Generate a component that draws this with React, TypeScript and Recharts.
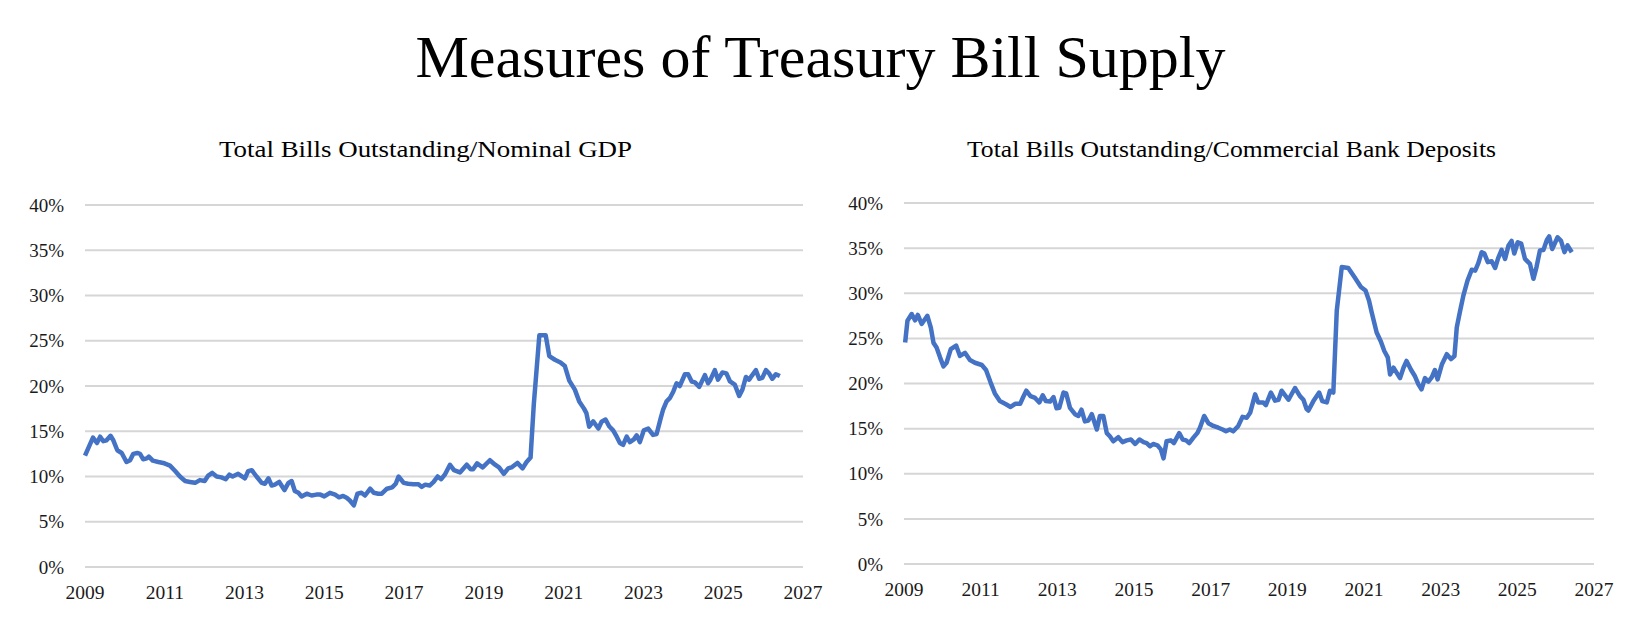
import React from 'react';
import { LineChart, Line, XAxis, YAxis, CartesianGrid } from 'recharts';

// Total bills outstanding / nominal GDP (%)
const gdpYears = [
  2009.0, 2009.13, 2009.2, 2009.3, 2009.38, 2009.46, 2009.54, 2009.64, 2009.71, 2009.81,
  2009.92, 2010.04, 2010.13, 2010.21, 2010.31, 2010.38, 2010.46, 2010.55, 2010.6, 2010.7,
  2010.84, 2010.96, 2011.13, 2011.26, 2011.38, 2011.51, 2011.63, 2011.76, 2011.88, 2012.0,
  2012.09, 2012.19, 2012.3, 2012.42, 2012.53, 2012.62, 2012.7, 2012.84, 2013.01, 2013.09,
  2013.18, 2013.3, 2013.43, 2013.51, 2013.6, 2013.68, 2013.76, 2013.87, 2014.0, 2014.1,
  2014.18, 2014.26, 2014.35, 2014.43, 2014.56, 2014.68, 2014.8, 2014.9, 2015.0, 2015.14,
  2015.27, 2015.37, 2015.47, 2015.56, 2015.64, 2015.74, 2015.83, 2015.93, 2016.02, 2016.15,
  2016.24, 2016.35, 2016.44, 2016.57, 2016.7, 2016.79, 2016.86, 2016.99, 2017.1, 2017.23,
  2017.36, 2017.44, 2017.53, 2017.64, 2017.74, 2017.84, 2017.93, 2018.02, 2018.15, 2018.25,
  2018.4, 2018.57, 2018.67, 2018.73, 2018.83, 2018.97, 2019.15, 2019.28, 2019.38, 2019.5,
  2019.61, 2019.69, 2019.84, 2019.97, 2020.07, 2020.17, 2020.25, 2020.39, 2020.55, 2020.64,
  2020.78, 2020.92, 2021.03, 2021.14, 2021.28, 2021.39, 2021.51, 2021.57, 2021.64, 2021.74,
  2021.87, 2021.95, 2022.05, 2022.14, 2022.24, 2022.33, 2022.41, 2022.49, 2022.58, 2022.66,
  2022.76, 2022.83, 2022.91, 2023.01, 2023.12, 2023.24, 2023.33, 2023.43, 2023.49, 2023.58,
  2023.66, 2023.75, 2023.83, 2023.91, 2024.04, 2024.12, 2024.21, 2024.29, 2024.4, 2024.54,
  2024.62, 2024.68, 2024.79, 2024.87, 2024.98, 2025.08, 2025.17, 2025.29, 2025.4, 2025.48,
  2025.57, 2025.65, 2025.71, 2025.82, 2025.9, 2025.98, 2026.07, 2026.15, 2026.23, 2026.32,
  2026.42,
];
const gdpValues = [
  12.3, 13.6, 14.3, 13.7, 14.4, 13.9, 14.0, 14.5, 14.0, 12.9,
  12.6, 11.6, 11.8, 12.5, 12.6, 12.5, 11.9, 12.0, 12.2, 11.75,
  11.6, 11.5, 11.2, 10.6, 10.0, 9.5, 9.4, 9.3, 9.6, 9.5,
  10.1, 10.4, 10.0, 9.9, 9.7, 10.2, 10.0, 10.3, 9.8, 10.6,
  10.7, 10.0, 9.3, 9.2, 9.8, 9.0, 9.1, 9.4, 8.5, 9.3,
  9.5, 8.4, 8.2, 7.8, 8.1, 7.9, 8.0, 8.0, 7.8, 8.2,
  8.0, 7.7, 7.85, 7.65, 7.35, 6.8, 8.1, 8.2, 7.9, 8.65,
  8.2, 8.1, 8.1, 8.65, 8.8, 9.2, 10.0, 9.3, 9.2, 9.15,
  9.15, 8.85, 9.1, 9.0, 9.4, 10.0, 9.7, 10.2, 11.3, 10.7,
  10.45, 11.3, 10.8, 10.8, 11.45, 11.0, 11.8, 11.3, 11.0, 10.3,
  10.9, 11.0, 11.5, 10.9, 11.6, 12.1, 17.9, 25.6, 25.6, 23.3,
  22.9, 22.6, 22.2, 20.6, 19.6, 18.3, 17.5, 17.0, 15.5, 16.1,
  15.3, 16.05, 16.3, 15.55, 15.1, 14.4, 13.7, 13.5, 14.4, 13.8,
  14.1, 14.55, 13.8, 15.1, 15.3, 14.6, 14.7, 16.4, 17.35, 18.3,
  18.65, 19.4, 20.3, 20.0, 21.3, 21.3, 20.5, 20.4, 19.9, 21.2,
  20.3, 20.7, 21.75, 20.7, 21.5, 21.4, 20.5, 20.15, 18.9, 19.6,
  21.0, 20.7, 21.1, 21.75, 20.8, 20.9, 21.75, 21.4, 20.8, 21.3,
  21.1,
];

// Total bills outstanding / commercial bank deposits (%)
const depYears = [
  2009.03, 2009.09, 2009.2, 2009.29, 2009.36, 2009.46, 2009.61, 2009.7, 2009.77, 2009.85,
  2009.94, 2010.03, 2010.11, 2010.22, 2010.36, 2010.46, 2010.59, 2010.72, 2010.85, 2011.03,
  2011.14, 2011.26, 2011.37, 2011.5, 2011.66, 2011.78, 2011.9, 2012.03, 2012.11, 2012.19,
  2012.3, 2012.42, 2012.53, 2012.62, 2012.7, 2012.81, 2012.9, 2012.98, 2013.05, 2013.16,
  2013.23, 2013.33, 2013.46, 2013.55, 2013.63, 2013.72, 2013.81, 2013.9, 2014.03, 2014.11,
  2014.2, 2014.29, 2014.37, 2014.46, 2014.59, 2014.7, 2014.81, 2014.92, 2015.03, 2015.14,
  2015.25, 2015.33, 2015.42, 2015.5, 2015.61, 2015.7, 2015.77, 2015.85, 2015.96, 2016.04,
  2016.18, 2016.27, 2016.36, 2016.44, 2016.55, 2016.65, 2016.72, 2016.83, 2016.94, 2017.07,
  2017.2, 2017.31, 2017.4, 2017.5, 2017.59, 2017.72, 2017.83, 2017.94, 2018.03, 2018.16,
  2018.24, 2018.37, 2018.44, 2018.57, 2018.68, 2018.77, 2018.85, 2019.03, 2019.2, 2019.33,
  2019.42, 2019.5, 2019.55, 2019.68, 2019.83, 2019.91, 2020.03, 2020.11, 2020.2, 2020.29,
  2020.42, 2020.59, 2020.75, 2020.92, 2021.04, 2021.13, 2021.2, 2021.33, 2021.44, 2021.53,
  2021.62, 2021.68, 2021.77, 2021.85, 2021.94, 2022.03, 2022.11, 2022.23, 2022.33, 2022.42,
  2022.5, 2022.59, 2022.68, 2022.77, 2022.85, 2022.92, 2023.03, 2023.16, 2023.27, 2023.36,
  2023.42, 2023.5, 2023.59, 2023.7, 2023.81, 2023.9, 2023.98, 2024.07, 2024.14, 2024.23,
  2024.33, 2024.42, 2024.5, 2024.59, 2024.68, 2024.77, 2024.85, 2024.92, 2025.01, 2025.1,
  2025.2, 2025.33, 2025.42, 2025.5, 2025.59, 2025.68, 2025.77, 2025.83, 2025.91, 2026.05,
  2026.14, 2026.23, 2026.31, 2026.42,
];
const depValues = [
  24.55, 26.95, 27.7, 27.0, 27.6, 26.6, 27.5, 26.2, 24.5, 24.0,
  22.9, 21.9, 22.3, 23.8, 24.2, 23.05, 23.4, 22.6, 22.3, 22.05,
  21.5, 20.1, 18.9, 18.05, 17.7, 17.4, 17.75, 17.75, 18.5, 19.2,
  18.6, 18.4, 17.9, 18.7, 18.05, 18.0, 18.5, 17.25, 17.3, 19.0,
  18.9, 17.3, 16.6, 16.4, 17.1, 15.8, 15.9, 16.6, 14.9, 16.4,
  16.4, 14.5, 14.15, 13.6, 14.05, 13.5, 13.7, 13.8, 13.3, 13.8,
  13.5, 13.4, 13.05, 13.3, 13.15, 12.7, 11.7, 13.6, 13.7, 13.4,
  14.5, 13.8, 13.7, 13.4, 14.0, 14.5, 15.1, 16.4, 15.6, 15.3,
  15.1, 14.9, 14.7, 14.9, 14.7, 15.3, 16.3, 16.2, 16.75, 18.8,
  17.9, 17.9, 17.6, 19.0, 18.1, 18.2, 19.2, 18.2, 19.5, 18.6,
  18.2, 17.2, 17.0, 18.05, 19.0, 18.05, 17.9, 19.2, 19.0, 28.1,
  32.9, 32.8, 31.8, 30.7, 30.3, 29.2, 27.9, 25.65, 24.65, 23.6,
  22.9, 21.0, 21.75, 21.2, 20.6, 21.75, 22.5, 21.5, 20.8, 19.9,
  19.35, 20.6, 20.2, 20.7, 21.5, 20.45, 22.1, 23.25, 22.7, 23.05,
  26.2, 27.9, 29.7, 31.4, 32.6, 32.5, 33.3, 34.55, 34.4, 33.45,
  33.55, 32.8, 33.9, 34.8, 33.8, 35.3, 35.8, 34.4, 35.65, 35.5,
  33.8, 33.25, 31.6, 32.9, 34.75, 34.8, 35.9, 36.3, 34.9, 36.2,
  35.8, 34.55, 35.3, 34.55,
];

const yearTicks = [2009, 2011, 2013, 2015, 2017, 2019, 2021, 2023, 2025, 2027];
const pctTicks = [0, 5, 10, 15, 20, 25, 30, 35, 40];

const FONT = '"Liberation Serif", "Times New Roman", serif';
const LINE_COLOR = '#4472C4';
const TEXT_COLOR = '#1a1a1a';

const gdpData = gdpYears.map((year, i) => ({ year, value: gdpValues[i] }));
const depData = depYears.map((year, i) => ({ year, value: depValues[i] }));

interface PanelProps {
  data: { year: number; value: number }[];
  left: number;
  width: number;
  margin: { top: number; right: number; bottom: number; left: number };
}

// one panel; y axis is 60 wide, so plot left edge = margin.left + 60
const Panel: React.FC<PanelProps> = ({ data, left, width, margin }) => (
  <div style={{ position: 'absolute', left, top: 0 }}>
    <LineChart width={width} height={621} data={data} margin={margin}>
      <CartesianGrid vertical={false} stroke="#d6d6d6" strokeWidth={2} />
      <XAxis
        type="number"
        dataKey="year"
        domain={[2009, 2027]}
        ticks={yearTicks}
        interval={0}
        axisLine={false}
        tickLine={false}
        tickSize={0}
        tickMargin={18}
        height={30}
        tick={{ fill: TEXT_COLOR, fontSize: 19.5, fontFamily: FONT }}
      />
      <YAxis
        type="number"
        domain={[0, 40]}
        ticks={pctTicks}
        interval={0}
        axisLine={false}
        tickLine={false}
        tickSize={0}
        tickMargin={21}
        width={60}
        tickFormatter={(v) => `${v}%`}
        tick={{ fill: TEXT_COLOR, fontSize: 19, fontFamily: FONT }}
      />
      <Line
        type="linear"
        dataKey="value"
        stroke={LINE_COLOR}
        strokeWidth={4.5}
        strokeLinejoin="round"
        dot={false}
        isAnimationActive={false}
      />
    </LineChart>
  </div>
);

export default function App() {
  return (
    <div
      style={{
        position: 'absolute',
        left: 0,
        top: 0,
        width: 1646,
        height: 621,
        background: '#fff',
        overflow: 'hidden',
      }}
    >
      <svg width={1646} height={621} style={{ position: 'absolute', left: 0, top: 0 }}>
        <text x={820.5} y={77} textAnchor="middle" fontFamily={FONT} fontSize={60} fill="#000">
          Measures of Treasury Bill Supply
        </text>
        <text
          x={425.5}
          y={157}
          textAnchor="middle"
          fontFamily={FONT}
          fontSize={23}
          fill="#000"
          textLength={413}
          lengthAdjust="spacingAndGlyphs"
        >
          Total Bills Outstanding/Nominal GDP
        </text>
        <text
          x={1231.5}
          y={157}
          textAnchor="middle"
          fontFamily={FONT}
          fontSize={23}
          fill="#000"
          textLength={529}
          lengthAdjust="spacingAndGlyphs"
        >
          Total Bills Outstanding/Commercial Bank Deposits
        </text>
      </svg>
      <Panel data={gdpData} left={0} width={850} margin={{ top: 205, right: 47, bottom: 24, left: 25 }} />
      <Panel data={depData} left={820} width={826} margin={{ top: 203, right: 52, bottom: 27, left: 24 }} />
    </div>
  );
}
